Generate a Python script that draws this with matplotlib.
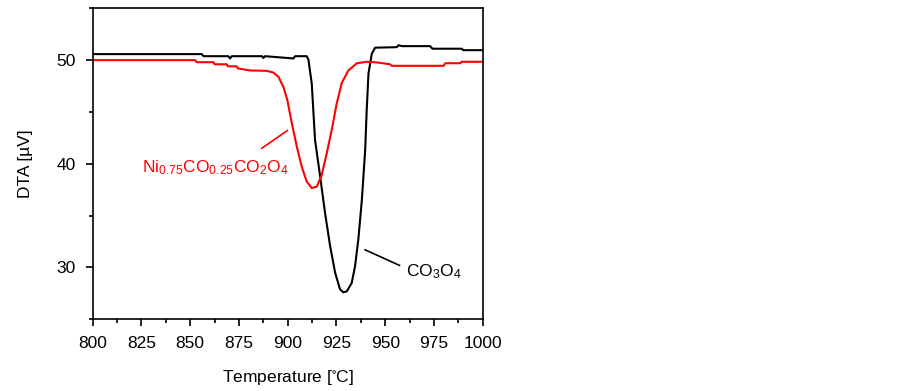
import matplotlib.pyplot as plt
from matplotlib.ticker import MultipleLocator

plt.rcParams['font.family'] = ['Liberation Sans', 'DejaVu Sans']
plt.rcParams['mathtext.fontset'] = 'custom'
plt.rcParams['mathtext.rm'] = 'Liberation Sans'
plt.rcParams['mathtext.default'] = 'regular'

# Co3O4 (black)
co_T = [800, 855.9, 856.8, 869.5, 870.4, 871.3, 886.8, 887.5, 888.3, 902.9, 903.8,
        909.7, 910.6, 912.3, 914.0, 916.6, 919.1, 921.7, 924.3, 926.8, 928.5,
        930.3, 932.8, 934.5, 936.2, 938.0, 939.7, 940.5, 941.4, 943.1, 944.8,
        955.9, 956.8, 958.5, 973.0, 974.2, 989.2, 990.1, 1000]
co_V = [50.58, 50.58, 50.38, 50.38, 50.16, 50.38, 50.38, 50.2, 50.38, 50.16, 50.38,
        50.38, 50.06, 47.76, 42.3, 38.8, 35.3, 32.1, 29.5, 27.9, 27.6,
        27.7, 28.5, 30.1, 32.7, 36.5, 41.3, 45.2, 48.7, 50.6, 51.2,
        51.25, 51.44, 51.35, 51.35, 51.1, 51.1, 50.96, 50.96]

# Ni0.75Co0.25Co2O4 (red)
ni_T = [800, 852.5, 853.3, 861.9, 862.5, 868.7, 869.3, 873.8, 874.4, 880.7, 889.2,
        892.6, 895.2, 897.8, 899.8, 902.1, 904.6, 907.2, 909.7, 912.3, 914.9,
        917.4, 920.0, 922.6, 925.1, 927.7, 931.1, 935.4, 940.5, 945.6, 952.5,
        953.3, 980.0, 980.8, 988.5, 989.2, 1000]
ni_V = [50.0, 50.0, 49.8, 49.8, 49.6, 49.6, 49.4, 49.4, 49.2, 49.0, 48.97,
        48.8, 48.4, 47.4, 46.15, 43.9, 41.7, 39.7, 38.3, 37.66, 37.8,
        38.9, 41.0, 43.3, 45.8, 47.8, 49.0, 49.7, 49.84, 49.78, 49.6,
        49.45, 49.45, 49.7, 49.7, 49.84, 49.84]

fig = plt.figure(figsize=(9.03, 3.91), dpi=100)
ax = fig.add_axes([0.1027, 0.1834, 0.4319, 0.7954])

ax.plot(co_T, co_V, color='black', lw=1.5)
ax.plot(ni_T, ni_V, color='#ff0000', lw=1.5)

ax.set_xlim(800, 1000)
ax.set_ylim(25, 55)
ax.xaxis.set_major_locator(MultipleLocator(25))
ax.xaxis.set_minor_locator(MultipleLocator(12.5))
ax.yaxis.set_major_locator(MultipleLocator(10))
ax.yaxis.set_minor_locator(MultipleLocator(5))
ax.tick_params(which='major', direction='out', length=5, width=1.2, labelsize=12.5, pad=7)
ax.tick_params(which='minor', direction='out', length=3, width=1.2)
for s in ax.spines.values():
    s.set_linewidth(1.2)

ax.set_xlabel('Temperature [$^{\\circ}$C]', fontsize=12.5, labelpad=12)
ax.set_ylabel('DTA [µV]', fontsize=12.5, labelpad=17)

# annotations
ax.plot([886.7, 899.8], [41.5, 43.2], color='#ff0000', lw=1.2)
ax.text(825.3, 39.6, r'Ni$_{0.75}$CO$_{0.25}$CO$_{2}$O$_{4}$', color='#ff0000',
        fontsize=12.5, va='center', ha='left')
ax.plot([939.7, 957.3], [31.7, 30.2], color='black', lw=1.2)
ax.text(960.7, 29.6, r'CO$_{3}$O$_{4}$', color='black', fontsize=12.5,
        va='center', ha='left')

fig.savefig('out.png', dpi=100)
